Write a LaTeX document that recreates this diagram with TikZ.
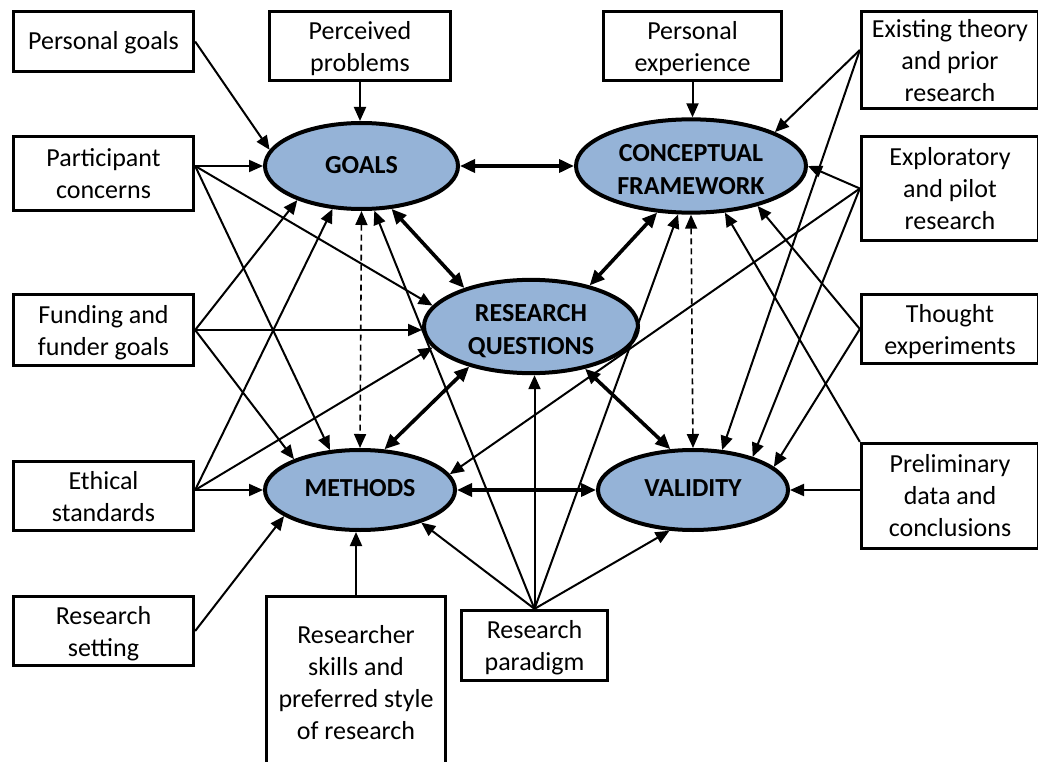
\documentclass[tikz,border=0pt]{standalone}
\usepackage{fontspec}
\setmainfont{Carlito}
\usetikzlibrary{arrows.meta,shapes.geometric}
\definecolor{ovalblue}{HTML}{95B3D7}
% stacked, centred lines, drawn lowered by #1 without changing the box size
\newcommand{\droplines}[2]{\raisebox{-#1}[\height][\depth]{\begin{tabular}{@{}c@{}}#2\end{tabular}}}

\begin{document}
\begin{tikzpicture}[x=1pt,y=-1pt,
  box/.style={draw,line width=3.3pt,fill=white,inner sep=0pt,
    font=\fontsize{26}{32}\selectfont},
  oval/.style={ellipse,draw,line width=4pt,fill=ovalblue,inner sep=0pt,
    font=\fontsize{26}{33}\selectfont\bfseries},
  arr/.style={line width=2pt,-{Triangle[length=14pt,width=12pt]}},
  both/.style={line width=3.6pt,{Triangle[length=15pt,width=13pt]}-{Triangle[length=15pt,width=13pt]}},
  dashboth/.style={line width=1.6pt,dash pattern=on 6pt off 4pt,
    {Triangle[length=14pt,width=12pt]}-{Triangle[length=14pt,width=12pt]}}]

\useasboundingbox (0,0) rectangle (1038,762);

% central concepts
\node[oval,minimum width=193pt,minimum height=86pt] (goals) at (361.5,166) {\droplines{1pt}{GOALS}};
\node[oval,minimum width=230pt,minimum height=90pt] (cf) at (691,166) {\droplines{5pt}{CONCEPTUAL\\FRAMEWORK}};
\node[oval,minimum width=214pt,minimum height=91pt] (rq) at (531,326.5) {\droplines{5pt}{RESEARCH\\QUESTIONS}};
\node[oval,minimum width=190pt,minimum height=80pt] (methods) at (360,490) {\droplines{0pt}{METHODS}};
\node[oval,minimum width=190pt,minimum height=80pt] (validity) at (693,490) {\droplines{0pt}{VALIDITY}};

% influences, left column
\node[box,minimum width=180pt,minimum height=60pt] (pg) at (103.5,41.5) {\droplines{2pt}{Personal goals}};
\node[box,minimum width=180pt,minimum height=74pt] (pc) at (103.5,173.5) {\droplines{3pt}{Participant\\concerns}};
\node[box,minimum width=180pt,minimum height=71pt] (fu) at (103.5,330) {\droplines{3pt}{Funding and\\funder goals}};
\node[box,minimum width=180pt,minimum height=69pt] (es) at (103.5,496) {\droplines{3pt}{Ethical\\standards}};
\node[box,minimum width=180pt,minimum height=69pt] (rs) at (103.5,631) {\droplines{3pt}{Research\\setting}};

% influences, top and bottom
\node[box,minimum width=181pt,minimum height=69pt] (pp) at (360,46) {\droplines{3pt}{Perceived\\problems}};
\node[box,minimum width=178pt,minimum height=69pt] (pe) at (692.5,46) {\droplines{3pt}{Personal\\experience}};
\node[box,minimum width=179pt,minimum height=172pt] (sk) at (356,682.5) {\droplines{3pt}{Researcher\\skills and\\preferred style\\of research}};
\node[box,minimum width=146pt,minimum height=70pt] (rp) at (534.5,645.5) {\droplines{3pt}{Research\\paradigm}};

% influences, right column
\node[box,minimum width=177pt,minimum height=97pt] (et) at (950,60) {\droplines{3pt}{Existing theory\\and prior\\research}};
\node[box,minimum width=177pt,minimum height=104pt] (ep) at (950,188.5) {\droplines{3pt}{Exploratory\\and pilot\\research}};
\node[box,minimum width=177pt,minimum height=69pt] (te) at (950,329) {\droplines{3pt}{Thought\\experiments}};
\node[box,minimum width=177pt,minimum height=105pt] (pd) at (950,496) {\droplines{2pt}{Preliminary\\data and\\conclusions}};

% shared start points
\coordinate (pcs) at (goals.west -| pc.east);
\coordinate (ess) at (methods.west -| es.east);
\coordinate (ets) at ([yshift=10pt]et.west);
\coordinate (pds) at (validity.east -| pd.west);

% left-hand influences
\draw[arr] (pg.east) -- (goals.170);
\draw[arr] (pp.south) -- (pp.south |- goals.north);
\draw[arr] (pcs) -- (goals.west);
\draw[arr] (pcs) -- (rq.168);
\draw[arr] (pcs) -- (methods.127);
\draw[arr] (fu.east) -- (goals.208);
\draw[arr] (fu.east) -- (fu.east -| rq.west);
\draw[arr] (fu.east) -- (methods.155);
\draw[arr] (ess) -- (goals.236);
\draw[arr] (ess) -- (rq.192);
\draw[arr] (ess) -- (methods.west);
\draw[arr] (rs.east) -- (methods.199);
\draw[arr] (sk.north) -- (sk.north |- methods.south);

% research paradigm
\draw[arr] (rp.north) -- (goals.286);
\draw[arr] (rp.north) -- (methods.332);
\draw[arr] (rp.north) -- (rp.north |- rq.south);
\draw[arr] (rp.north) -- (cf.255);
\draw[arr] (rp.north) -- (validity.240);

% right-hand influences
\draw[arr] (pe.south) -- (pe.south |- cf.north);
\draw[arr] (ets) -- (cf.22);
\draw[arr] (ets) -- (validity.54);
\draw[arr] (ep.west) -- (cf.east);
\draw[arr] (ep.west) -- (methods.10);
\draw[arr] (ep.west) -- (validity.29);
\draw[arr] (te.west) -- (cf.329);
\draw[arr] (te.west) -- (validity.16);
\draw[arr] (pd.north west) -- (cf.306);
\draw[arr] (pds) -- (validity.east);

% links between the components
\draw[both] (goals.east) -- (cf.west);
\draw[both] (goals.305) -- (rq.150);
\draw[both] (cf.234) -- (rq.35);
\draw[both] (rq.213) -- (methods.59);
\draw[both] (rq.322) -- (validity.119);
\draw[both] (methods.east) -- (validity.west);
\draw[dashboth] (goals.south) -- (methods.north);
\draw[dashboth] (cf.south) -- (validity.north);
\end{tikzpicture}
\end{document}
